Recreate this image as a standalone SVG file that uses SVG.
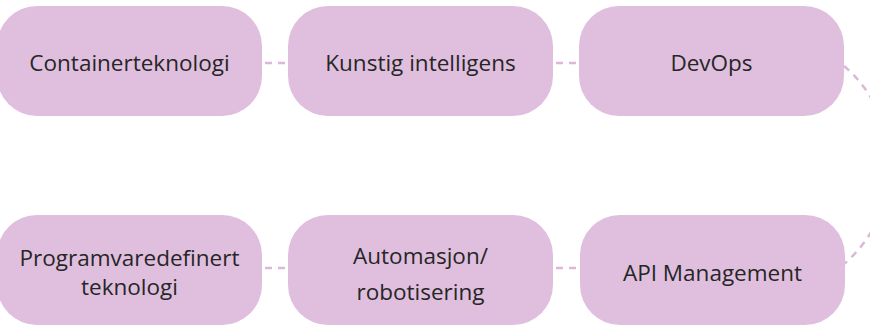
<svg xmlns="http://www.w3.org/2000/svg" width="870" height="325" viewBox="0 0 870 325">
  <style>
    .box { fill: #E0BFDE; }
    .label { font-family: "Open Sans", "Noto Sans", sans-serif; font-size: 22.5px; fill: #262626; text-anchor: middle; }
    .link { fill: none; stroke: #DDB7DA; stroke-width: 2.5; stroke-dasharray: 7 6; }
  </style>
  <rect width="870" height="325" fill="#FFFFFF"/>

  <!-- dashed connectors -->
  <g id="connectors">
    <line class="link" x1="262" y1="63" x2="288" y2="63" stroke-dashoffset="-3"/>
    <line class="link" x1="553" y1="63" x2="579" y2="63" stroke-dashoffset="-3"/>
    <path class="link" d="M 844 66 A 129.8 129.8 0 0 1 844 264"/>
    <line class="link" x1="553" y1="268" x2="580" y2="268" stroke-dashoffset="-3"/>
    <line class="link" x1="262" y1="268" x2="288" y2="268" stroke-dashoffset="-3"/>
  </g>

  <!-- top row -->
  <g id="containerteknologi">
    <rect class="box" x="-3" y="6" width="265" height="110" rx="40"/>
    <text class="label" x="129.5" y="71">Containerteknologi</text>
  </g>
  <g id="kunstig-intelligens">
    <rect class="box" x="288" y="6" width="265" height="110" rx="40"/>
    <text class="label" x="420.5" y="71">Kunstig intelligens</text>
  </g>
  <g id="devops">
    <rect class="box" x="579" y="6" width="265" height="110" rx="40"/>
    <text class="label" x="711.5" y="71">DevOps</text>
  </g>

  <!-- bottom row -->
  <g id="api-management">
    <rect class="box" x="580" y="215" width="265" height="110" rx="40"/>
    <text class="label" x="712.5" y="281">API Management</text>
  </g>
  <g id="automasjon">
    <rect class="box" x="288" y="215" width="265" height="110" rx="40"/>
    <text class="label" x="420.5" y="264">Automasjon/</text>
    <text class="label" x="420.5" y="300">robotisering</text>
  </g>
  <g id="programvaredefinert">
    <rect class="box" x="-3" y="215" width="265" height="110" rx="40"/>
    <text class="label" x="129.5" y="266">Programvaredefinert</text>
    <text class="label" x="129.5" y="295">teknologi</text>
  </g>
</svg>
